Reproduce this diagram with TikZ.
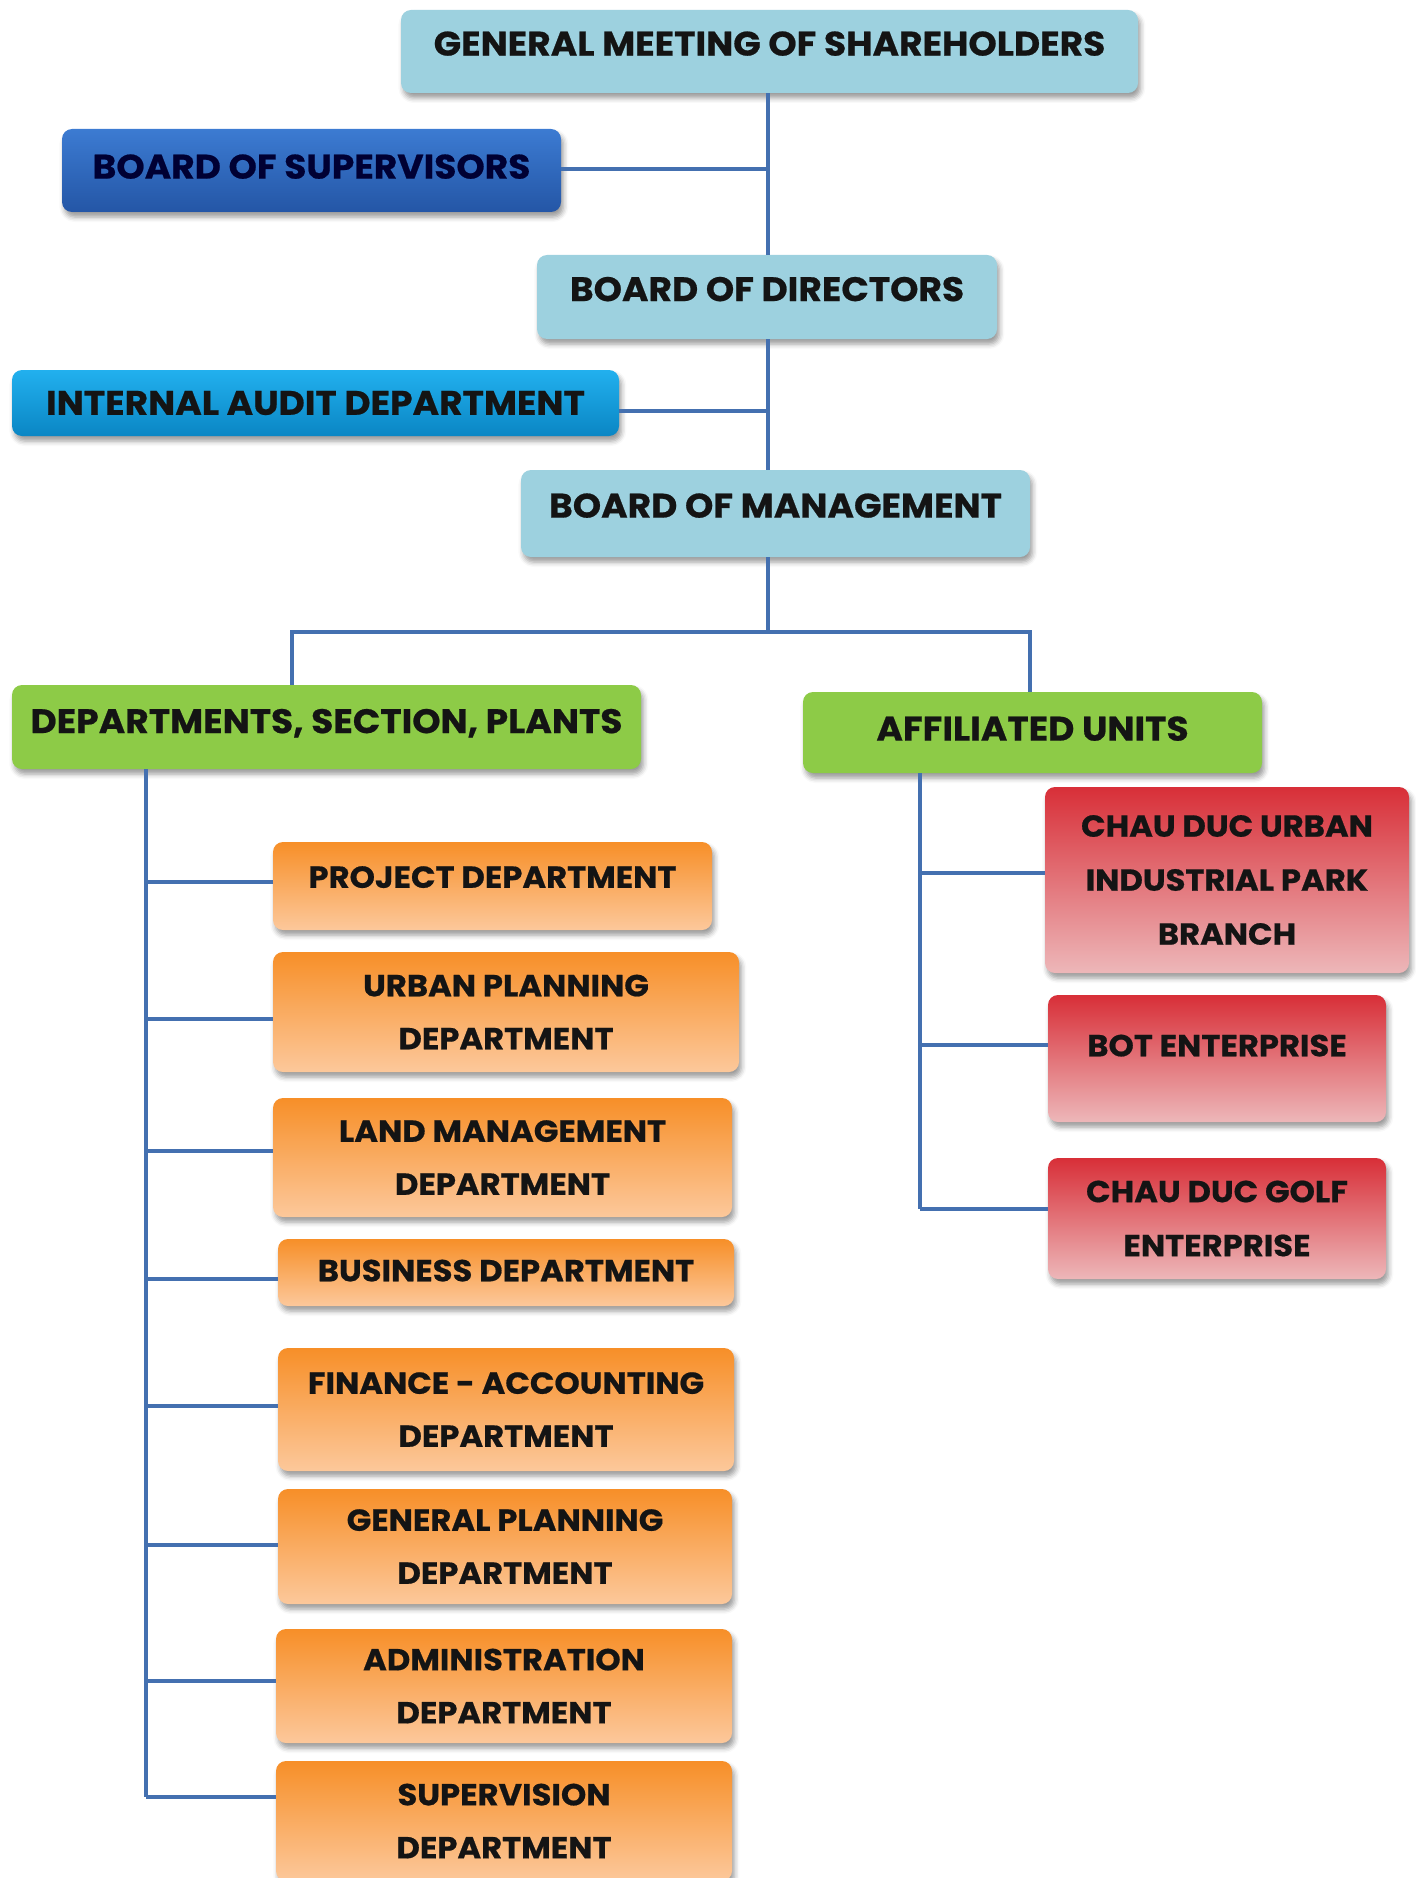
\documentclass[tikz,border=0pt]{standalone}
\usepackage{fontspec}
\setmainfont{Poppins}[BoldFeatures={FakeStretch=1.06,FakeBold=0.6}]
\usetikzlibrary{shadows,shadows.blur}
\definecolor{lblue}{HTML}{9DD1DF}
\definecolor{supT}{HTML}{3C7BD2}
\definecolor{supB}{HTML}{2456A6}
\definecolor{audT}{HTML}{22B0EE}
\definecolor{audB}{HTML}{0A86C4}
\definecolor{lgreen}{HTML}{8DCB47}
\definecolor{orT}{HTML}{F78F28}
\definecolor{orB}{HTML}{FCC89B}
\definecolor{rdT}{HTML}{D82F38}
\definecolor{rdB}{HTML}{EDB7B9}
\definecolor{wire}{HTML}{4470B0}
\definecolor{ink}{HTML}{141414}
\tikzset{
  box/.style={rectangle, rounded corners=5pt, align=center, inner sep=0pt,
    text=ink, font=\bfseries\fontsize{17}{20}\selectfont,
    blur shadow={shadow xshift=1.2pt, shadow yshift=-2.5pt, shadow blur radius=2.5pt, shadow opacity=40}},
  topbox/.style={box, fill=lblue},
  supbox/.style={box, top color=supT, bottom color=supB, text=black!80!blue},
  audbox/.style={box, top color=audT, bottom color=audB},
  grnbox/.style={box, fill=lgreen},
  orbox/.style={box, top color=orT, bottom color=orB, font=\bfseries\fontsize{15.2}{26.5}\selectfont},
  rdbox/.style={box, top color=rdT, bottom color=rdB, font=\bfseries\fontsize{15.2}{27}\selectfont},
  raise/.style={text depth=#1},
  wireline/.style={draw=wire, line width=1.6pt}
}
\begin{document}
\begin{tikzpicture}[x=0.5pt, y=-0.5pt]
\useasboundingbox (0,0) rectangle (1416,1878);
% top chain
\node[topbox, minimum width=368.5pt, minimum height=41.5pt, raise=8pt] (gms) at (769.5,51.5) {GENERAL MEETING OF SHAREHOLDERS};
\node[supbox, minimum width=249.5pt, minimum height=41.5pt, raise=4pt] (sup) at (311.5,170.5) {BOARD OF SUPERVISORS};
\node[topbox, minimum width=230pt, minimum height=42pt, raise=8pt] (bod) at (767,297) {BOARD OF DIRECTORS};
\node[audbox, minimum width=303.5pt, minimum height=33pt] (aud) at (315.5,403) {INTERNAL AUDIT DEPARTMENT};
\node[topbox, minimum width=254.5pt, minimum height=43.5pt, raise=8pt] (bom) at (775.5,513.5) {BOARD OF MANAGEMENT};
% second level
\node[grnbox, minimum width=314.5pt, minimum height=42pt, raise=6pt] (dep) at (326.5,727) {DEPARTMENTS, SECTION, PLANTS};
\node[grnbox, minimum width=229.5pt, minimum height=40.5pt, raise=4pt] (aff) at (1032.5,732.5) {AFFILIATED UNITS};
% orange departments
\node[orbox, minimum width=219.5pt, minimum height=44pt, raise=9pt] (proj) at (492.5,886) {PROJECT DEPARTMENT};
\node[orbox, minimum width=233pt, minimum height=60pt] (urb) at (506,1012) {URBAN PLANNING\\DEPARTMENT};
\node[orbox, minimum width=229.5pt, minimum height=59.5pt] (land) at (502.5,1157.5) {LAND MANAGEMENT\\DEPARTMENT};
\node[orbox, minimum width=228pt, minimum height=33.5pt, raise=2pt] (bus) at (506,1272.5) {BUSINESS DEPARTMENT};
\node[orbox, minimum width=228pt, minimum height=61.5pt] (fin) at (506,1409.5) {FINANCE - ACCOUNTING\\DEPARTMENT};
\node[orbox, minimum width=227pt, minimum height=57.5pt] (gen) at (505,1546.5) {GENERAL PLANNING\\DEPARTMENT};
\node[orbox, minimum width=228pt, minimum height=57pt] (adm) at (504,1686) {ADMINISTRATION\\DEPARTMENT};
\node[orbox, minimum width=228pt, minimum height=60pt] (supv) at (504,1821) {SUPERVISION\\DEPARTMENT};
% red affiliated units
\node[rdbox, minimum width=182pt, minimum height=93pt] (cdu) at (1227,880) {CHAU DUC URBAN\\INDUSTRIAL PARK\\BRANCH};
\node[rdbox, minimum width=169pt, minimum height=63.5pt, raise=13pt] (bot) at (1217,1058.5) {BOT ENTERPRISE};
\node[rdbox, minimum width=169pt, minimum height=60.5pt] (golf) at (1217,1218.5) {CHAU DUC GOLF\\ENTERPRISE};
% coordinates
\coordinate (m1) at (768,169);
\coordinate (m2) at (768,411);
\coordinate (mj) at (768,632);
\coordinate (hl) at (292,632);
\coordinate (hr) at (1030,632);
\coordinate (ltop) at (146,769);
\coordinate (l1) at (146,882);
\coordinate (l2) at (146,1019);
\coordinate (l3) at (146,1151);
\coordinate (l4) at (146,1279);
\coordinate (l5) at (146,1406);
\coordinate (l6) at (146,1545);
\coordinate (l7) at (146,1681);
\coordinate (l8) at (146,1797);
\coordinate (rtop) at (920,773);
\coordinate (r1) at (920,873);
\coordinate (r2) at (920,1045);
\coordinate (r3) at (920,1209);
% connectors
\draw[wireline] (gms.south -| mj) -- (bod.north -| mj);
\draw[wireline] (bod.south -| mj) -- (bom.north -| mj);
\draw[wireline] (bom.south -| mj) -- (mj);
\draw[wireline] (sup.east |- m1) -- (m1);
\draw[wireline] (aud.east |- m2) -- (m2);
\draw[wireline] (dep.north -| hl) -- (hl) -- (hr) -- (aff.north -| hr);
\draw[wireline] (ltop) -- (l8);
\draw[wireline] (l1) -- (l1 -| proj.west);
\draw[wireline] (l2) -- (l2 -| urb.west);
\draw[wireline] (l3) -- (l3 -| land.west);
\draw[wireline] (l4) -- (l4 -| bus.west);
\draw[wireline] (l5) -- (l5 -| fin.west);
\draw[wireline] (l6) -- (l6 -| gen.west);
\draw[wireline] (l7) -- (l7 -| adm.west);
\draw[wireline] (l8) -- (l8 -| supv.west);
\draw[wireline] (rtop) -- (r3);
\draw[wireline] (r1) -- (r1 -| cdu.west);
\draw[wireline] (r2) -- (r2 -| bot.west);
\draw[wireline] (r3) -- (r3 -| golf.west);
\end{tikzpicture}
\end{document}
